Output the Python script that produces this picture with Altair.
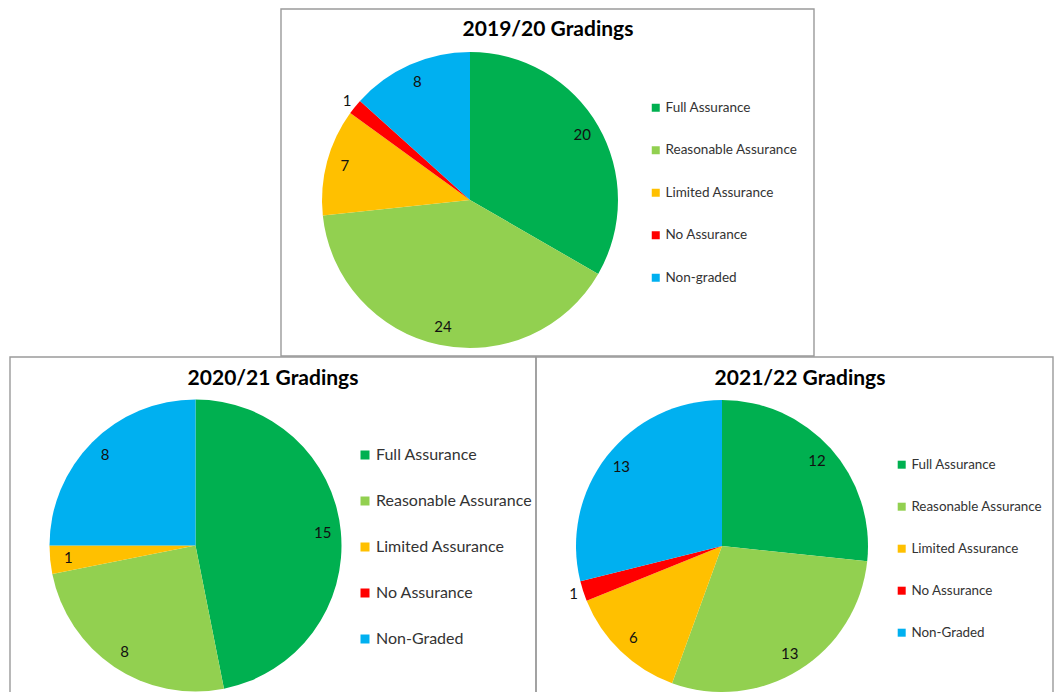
import altair as alt
import pandas as pd

FONT = "Lato"

cats_1920 = ["Full Assurance", "Reasonable Assurance", "Limited Assurance", "No Assurance", "Non-graded"]
vals_1920 = [20, 24, 7, 1, 8]

cats_2021 = ["Full Assurance", "Reasonable Assurance", "Limited Assurance", "No Assurance", "Non-Graded"]
vals_2021 = [15, 8, 1, 0, 8]

cats_2122 = ["Full Assurance", "Reasonable Assurance", "Limited Assurance", "No Assurance", "Non-Graded"]
vals_2122 = [12, 13, 6, 1, 13]

titles = ["2019/20 Gradings", "2020/21 Gradings", "2021/22 Gradings"]
colors = ["#00B050", "#92D050", "#FFC000", "#FF0000", "#00B0F0"]

one = pd.DataFrame({"k": [0]})


def box(x1, y1, x2, y2):
    return alt.Chart(one).mark_rect(filled=False, stroke="#9a9a9a", strokeWidth=1.4).encode(
        x=alt.value(x1), x2=alt.value(x2), y=alt.value(y1), y2=alt.value(y2)
    )


def title(txt, cx, base_y):
    return alt.Chart(one).mark_text(
        font=FONT, fontSize=21, fontWeight="bold", color="#000000",
        align="center", baseline="alphabetic"
    ).encode(x=alt.value(cx), y=alt.value(base_y), text=alt.value(txt))


def pie(cats, vals, cx, cy, R, lx, ly, lfs, rp, sym):
    df = pd.DataFrame({"category": cats, "value": vals, "idx": list(range(len(cats)))})
    arc = alt.Chart(df).mark_arc(radius=R, strokeWidth=0).encode(
        theta=alt.Theta("value:Q", stack=True),
        order=alt.Order("idx:Q", sort="ascending"),
        x=alt.value(cx),
        y=alt.value(cy),
        color=alt.Color(
            "category:N",
            scale=alt.Scale(domain=cats, range=colors),
            sort=cats,
            legend=alt.Legend(
                title=None, orient="none", legendX=lx, legendY=ly,
                symbolType="square", symbolSize=sym, symbolStrokeWidth=0,
                labelFont=FONT, labelFontSize=lfs, labelColor="#333333",
                rowPadding=rp, padding=0, offset=0, labelOffset=3,
                labelLimit=400,
            ),
        ),
    )
    lbl = (
        alt.Chart(df)
        .transform_joinaggregate(total="sum(value)")
        .transform_window(cum="sum(value)", sort=[alt.SortField("idx", order="ascending")])
        .transform_calculate(
            mid="datum.cum - datum.value / 2",
            lr=f"datum.value / datum.total < 0.025 ? {R + 10} : {R * 0.875}",
        )
        .transform_filter("datum.value > 0")
        .mark_text(font=FONT, fontSize=15, color="#111111", align="center", baseline="middle")
        .encode(
            theta=alt.Theta("mid:Q", stack=False),
            x=alt.value(cx),
            y=alt.value(cy),
            radius=alt.Radius("lr:Q", scale=None),
            text=alt.Text("value:Q"),
        )
    )
    return alt.layer(arc, lbl)


chart = alt.layer(
    box(281, 9, 814, 356),
    box(10, 357, 536, 720),
    box(536, 357, 1053, 720),
    pie(cats_1920, vals_1920, 470, 200, 148, 649, 101, 13.5, 27.5, 64),
    pie(cats_2021, vals_2021, 195.5, 545.5, 146, 357, 447, 16, 30, 81),
    pie(cats_2122, vals_2122, 722, 546, 146, 895, 458, 13.4, 27, 64),
    title(titles[0], 548, 36),
    title(titles[1], 273, 385),
    title(titles[2], 800, 385),
).resolve_scale(
    theta="independent", color="independent"
).properties(
    width=1054, height=692, autosize="none", padding=0, background="white"
).configure_view(strokeWidth=0)

chart.save("out.html", embed_options={"renderer": "svg", "actions": False})
